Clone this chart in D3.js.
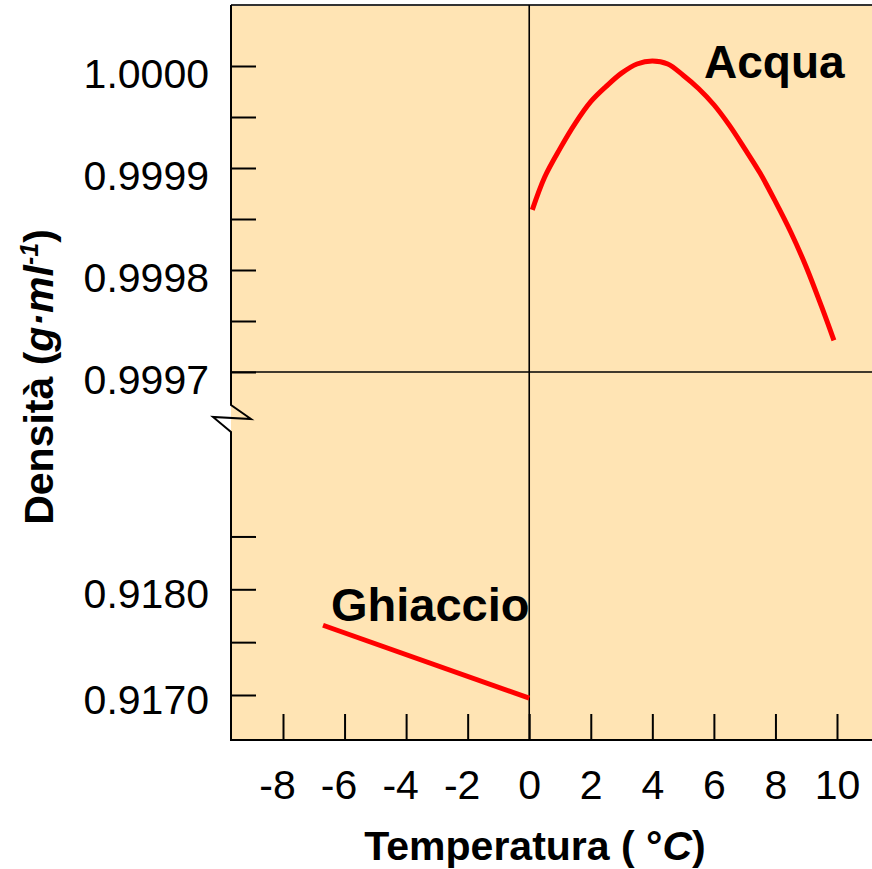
<!DOCTYPE html>
<html>
<head>
<meta charset="utf-8">
<script src="https://cdn.jsdelivr.net/npm/d3@7"></script>
<style>
  html, body { margin: 0; padding: 0; background: #ffffff; }
  svg { display: block; }
  text { font-family: "Liberation Sans", Arial, sans-serif; fill: #000; }
</style>
</head>
<body>
<svg id="chart" width="872" height="869"></svg>
<script>
// Temperature axis ticks (°C)
const temperatureTicks = [-8, -6, -4, -2, 0, 2, 4, 6, 8, 10];

// Liquid water: density vs temperature
const waterTemp = [0.1, 0.5, 1, 1.5, 2, 2.5, 3, 3.5, 4, 4.5, 5, 5.5, 6, 6.5, 7, 7.5, 8, 8.5, 9, 9.5, 9.9];
const waterDensity = [0.999859, 0.999891, 0.999919, 0.999944, 0.999965, 0.999980, 0.999993, 1.000002,
  1.000005, 1.000002, 0.999991, 0.999978, 0.999962, 0.999942, 0.999919, 0.999895, 0.999867,
  0.999837, 0.999803, 0.999764, 0.999731];

// Ice: density vs temperature
const iceTemp = [-6.7, 0];
const iceDensity = [0.91766, 0.91697];

// Density axis ticks: upper (water) and lower (ice) segments of the broken axis
const upperTickValues = [0.9997, 0.99975, 0.9998, 0.99985, 0.9999, 0.99995, 1.0];
const upperTickLabels = ["0.9997", "", "0.9998", "", "0.9999", "", "1.0000"];
const lowerTickValues = [0.917, 0.9175, 0.918, 0.9185];
const lowerTickLabels = ["0.9170", "", "0.9180", ""];

(function draw() {
  const svg = d3.select("#chart");

  const plotLeft = 231, plotRight = 873, plotTop = 5, plotBottom = 740;
  const breakTop = 405, breakBottom = 432;

  const x = d3.scaleLinear().domain([-8, 10]).range([283, 837]);
  const yTop = d3.scaleLinear().domain([0.9997, 1.0]).range([372, 66]);
  const yBot = d3.scaleLinear().domain([0.917, 0.918]).range([695, 589.3]);

  // plot background
  svg.append("rect")
    .attr("x", plotLeft).attr("y", plotTop)
    .attr("width", plotRight - plotLeft).attr("height", plotBottom - plotTop)
    .attr("fill", "#ffe4b4");

  // top frame edge
  svg.append("line")
    .attr("x1", plotLeft).attr("x2", plotRight).attr("y1", plotTop).attr("y2", plotTop)
    .attr("stroke", "#333").attr("stroke-width", 2);

  // annotations
  svg.append("text")
    .attr("x", 704).attr("y", 78)
    .attr("font-size", 46).attr("font-weight", "bold")
    .text("Acqua");
  svg.append("text")
    .attr("x", 331).attr("y", 621)
    .attr("font-size", 47).attr("font-weight", "bold")
    .text("Ghiaccio");

  // reference lines: 0 °C and 0.9997 g/ml
  svg.append("line")
    .attr("x1", x(0)).attr("x2", x(0)).attr("y1", plotTop).attr("y2", plotBottom)
    .attr("stroke", "#000").attr("stroke-width", 1.6);
  svg.append("line")
    .attr("x1", plotLeft).attr("x2", plotRight).attr("y1", yTop(0.9997)).attr("y2", yTop(0.9997))
    .attr("stroke", "#000").attr("stroke-width", 1.6);

  // curves
  const waterLine = d3.line()
    .x((d, i) => x(waterTemp[i]))
    .y(d => yTop(d))
    .curve(d3.curveCatmullRom.alpha(0.5));
  svg.append("path")
    .datum(waterDensity)
    .attr("d", waterLine)
    .attr("fill", "none").attr("stroke", "#ff0000").attr("stroke-width", 5);

  const iceLine = d3.line()
    .x((d, i) => x(iceTemp[i]))
    .y(d => yBot(d));
  svg.append("path")
    .datum(iceDensity)
    .attr("d", iceLine)
    .attr("fill", "none").attr("stroke", "#ff0000").attr("stroke-width", 5);

  // y axis line with break
  svg.append("path")
    .attr("d", `M${plotLeft},${plotTop} V${breakTop} L${plotLeft + 20},${breakTop + 14} L${plotLeft - 18},${breakTop + 12} L${plotLeft},${breakBottom} V${plotBottom}`)
    .attr("fill", "none").attr("stroke", "#000").attr("stroke-width", 2);

  // upper density axis
  const gTop = svg.append("g").attr("transform", `translate(${plotLeft},0)`)
    .call(d3.axisLeft(yTop)
      .tickValues(upperTickValues)
      .tickSizeInner(-25).tickSizeOuter(0).tickPadding(22)
      .tickFormat((d, i) => upperTickLabels[i]));
  gTop.select(".domain").remove();
  gTop.selectAll(".tick line").attr("stroke", "#000").attr("stroke-width", 2);
  gTop.selectAll(".tick text").attr("font-size", 41).attr("dy", "0.52em")
    .attr("font-family", "Liberation Sans, Arial, sans-serif");

  // lower density axis
  const gBot = svg.append("g").attr("transform", `translate(${plotLeft},0)`)
    .call(d3.axisLeft(yBot)
      .tickValues(lowerTickValues)
      .tickSizeInner(-25).tickSizeOuter(0).tickPadding(22)
      .tickFormat((d, i) => lowerTickLabels[i]));
  gBot.select(".domain").remove();
  gBot.selectAll(".tick line").attr("stroke", "#000").attr("stroke-width", 2);
  gBot.selectAll(".tick text").attr("font-size", 41).attr("dy", "0.45em")
    .attr("font-family", "Liberation Sans, Arial, sans-serif");

  // temperature axis
  svg.append("line")
    .attr("x1", plotLeft - 1).attr("x2", plotRight).attr("y1", plotBottom).attr("y2", plotBottom)
    .attr("stroke", "#000").attr("stroke-width", 2);
  const gX = svg.append("g").attr("transform", `translate(0,${plotBottom})`)
    .call(d3.axisBottom(x)
      .tickValues(temperatureTicks)
      .tickSizeInner(-26).tickSizeOuter(0).tickPadding(30)
      .tickFormat(d => String(d)));
  gX.select(".domain").remove();
  gX.selectAll(".tick line").attr("stroke", "#000").attr("stroke-width", 2);
  gX.selectAll(".tick text").attr("font-size", 41)
    .attr("dx", d => (d < 0 ? -6 : 0))
    .attr("font-family", "Liberation Sans, Arial, sans-serif");

  // axis titles
  const xTitle = svg.append("text")
    .attr("x", 535).attr("y", 860)
    .attr("text-anchor", "middle")
    .attr("font-size", 41).attr("font-weight", "bold");
  xTitle.append("tspan").text("Temperatura ( °");
  xTitle.append("tspan").attr("font-style", "italic").text("C");
  xTitle.append("tspan").text(")");

  const yTitle = svg.append("text")
    .attr("transform", "translate(53,377) rotate(-90)")
    .attr("text-anchor", "middle")
    .attr("font-size", 41).attr("font-weight", "bold");
  yTitle.append("tspan").text("Densità (");
  yTitle.append("tspan").attr("font-style", "italic").text("g·ml");
  yTitle.append("tspan").attr("font-style", "italic").attr("font-size", 25).attr("dy", -15).text("-1");
  yTitle.append("tspan").attr("dy", 15).text(")");
})();
</script>
</body>
</html>
